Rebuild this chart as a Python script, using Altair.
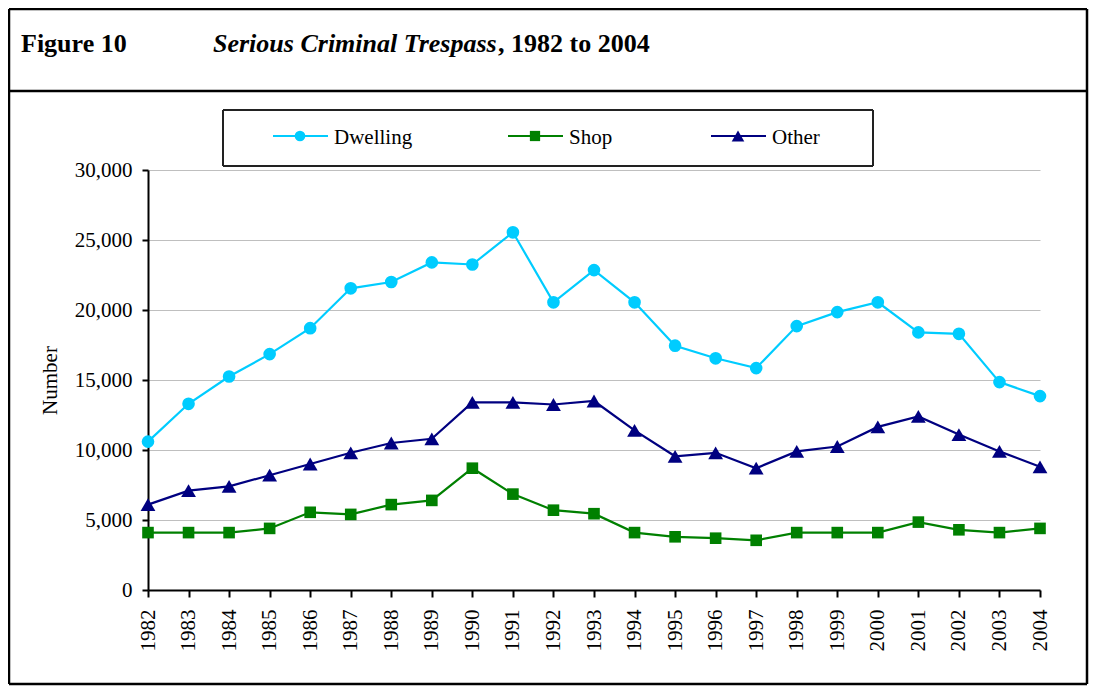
import altair as alt
import pandas as pd

years = list(range(1982, 2005))
dwelling = [10600, 13300, 15250, 16850, 18700, 21550, 22000, 23400, 23250, 25550,
            20550, 22850, 20550, 17450, 16550, 15850, 18850, 19850, 20550, 18400,
            18300, 14850, 13850]
shop = [4100, 4100, 4100, 4400, 5550, 5400, 6100, 6400, 8700, 6850,
        5700, 5450, 4100, 3800, 3700, 3550, 4100, 4100, 4100, 4850,
        4300, 4100, 4400]
other = [6100, 7100, 7400, 8200, 9000, 9800, 10500, 10800, 13400, 13400,
         13250, 13500, 11400, 9550, 9800, 8700, 9900, 10250, 11650, 12400,
         11100, 9900, 8800]
series_names = ["Dwelling", "Shop", "Other"]
series_colors = ["#00CCFF", "#008000", "#000080"]
series_shapes = ["circle", "square", "triangle-up"]
y_ticks = [0, 5000, 10000, 15000, 20000, 25000, 30000]

FONT = "Liberation Serif"

df = pd.DataFrame({"Year": years, "Dwelling": dwelling, "Shop": shop, "Other": other})
long = df.melt(id_vars="Year", var_name="Series", value_name="Value")

x_enc = alt.X(
    "Year:Q",
    scale=alt.Scale(domain=[1982, 2004], nice=False, zero=False),
    axis=alt.Axis(values=years, format="d", labelAngle=-90, grid=False,
                  title=None, labelFont=FONT, labelFontSize=21, labelColor="#000",
                  labelPadding=12, tickSize=7, tickColor="#000", tickWidth=2,
                  domainColor="#000", domainWidth=2, labelFlush=False,
                  labelOverlap=False),
)
y_enc = alt.Y(
    "Value:Q",
    scale=alt.Scale(domain=[0, 30000], nice=False),
    axis=alt.Axis(values=y_ticks, format=",.0f", title="Number", titleFont=FONT,
                  titleFontSize=21, titleFontWeight="normal", titleColor="#000",
                  titleX=-98, titleY=210, titleBaseline="middle", titleAngle=-90,
                  labelFont=FONT, labelFontSize=21, labelColor="#000",
                  labelPadding=10, tickSize=6, tickColor="#000", tickWidth=2,
                  domainColor="#000", domainWidth=2, gridColor="#BFBFBF",
                  gridWidth=1, labelFlush=False),
)

sizes = {"circle": 160, "square": 135, "triangle-up": 220}
legend_sizes = {"circle": 115, "square": 105, "triangle-up": 160}
layers = []
for name, color, shape in zip(series_names, series_colors, series_shapes):
    sub = long[long["Series"] == name]
    base = alt.Chart(sub).encode(x=x_enc, y=y_enc)
    layers.append(base.mark_line(color=color, strokeWidth=2.2))
    layers.append(base.mark_point(shape=shape, filled=True, color=color,
                                  size=sizes[shape], opacity=1))

one = pd.DataFrame({"k": [0]})

def rule(x1, x2, y1, y2, width=2.5, color="#000"):
    return alt.Chart(one).mark_rule(color=color, strokeWidth=width).encode(
        x=alt.value(x1), x2=alt.value(x2), y=alt.value(y1), y2=alt.value(y2))

# outer frame and title separator
frame = [
    rule(-139, 939, -161, -161),
    rule(-139, 939, 514, 514),
    rule(-139, -139, -161, 514),
    rule(939, 939, -161, 514),
    rule(-139, 939, -79, -79),
]

# legend box
legend_box = [
    rule(75, 725, -60, -60, 2, "#222"),
    rule(75, 725, -4, -4, 2, "#222"),
    rule(75, 75, -60, -4, 2, "#222"),
    rule(725, 725, -60, -4, 2, "#222"),
]

legend_x = [125, 360, 563]
legend_items = []
for name, color, shape, lx in zip(series_names, series_colors, series_shapes, legend_x):
    legend_items.append(rule(lx, lx + 55, -34, -34, 2, color))
    legend_items.append(
        alt.Chart(one).mark_point(shape=shape, filled=True, color=color,
                                  size=legend_sizes[shape], opacity=1).encode(
            x=alt.value(lx + 27), y=alt.value(-34)))
    legend_items.append(
        alt.Chart(one).mark_text(text=name, font=FONT, fontSize=21, align="left",
                                 baseline="alphabetic", color="#000").encode(
            x=alt.value(lx + 61), y=alt.value(-26)))

titles = [
    alt.Chart(one).mark_text(text="Figure 10", font=FONT, fontSize=26,
                             fontWeight="bold", align="left",
                             baseline="alphabetic", color="#000").encode(
        x=alt.value(-127), y=alt.value(-118)),
    alt.Chart(one).mark_text(text="Serious Criminal Trespass", font=FONT,
                             fontSize=26, fontWeight="bold", fontStyle="italic",
                             align="left", baseline="alphabetic",
                             color="#000").encode(
        x=alt.value(65), y=alt.value(-118)),
    alt.Chart(one).mark_text(text=", 1982 to 2004", font=FONT, fontSize=26,
                             fontWeight="bold", align="left",
                             baseline="alphabetic", color="#000").encode(
        x=alt.value(350), y=alt.value(-118)),
]

chart = alt.layer(*layers, *frame, *legend_box, *legend_items, *titles).properties(
    width=892,
    height=420,
    autosize=alt.AutoSizeParams(type="none"),
    padding={"left": 140, "top": 162, "right": 49, "bottom": 96},
    background="white",
).configure_view(stroke=None)

chart.save("out.html", embed_options={"renderer": "svg", "actions": False})
